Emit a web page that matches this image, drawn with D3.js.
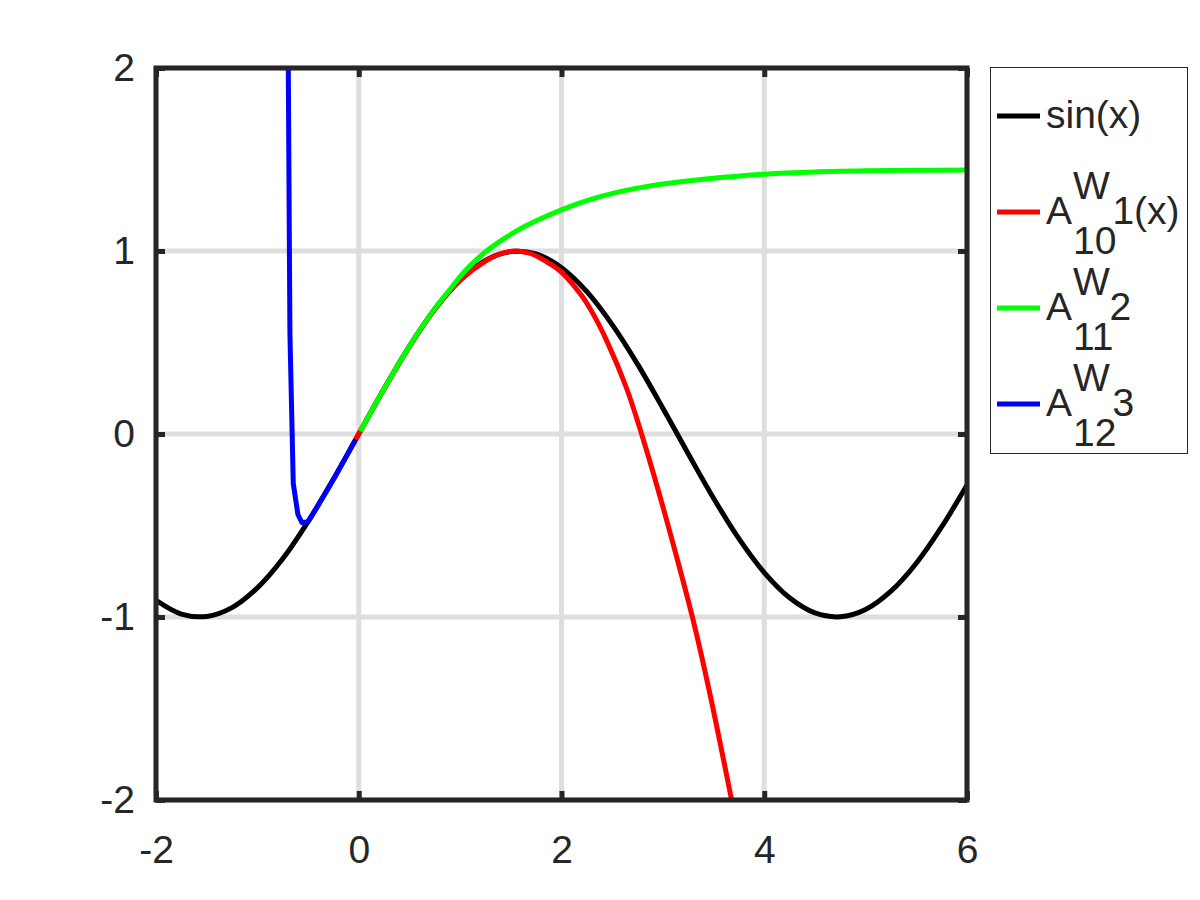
<!DOCTYPE html>
<html>
<head>
<meta charset="utf-8">
<script src="https://cdn.jsdelivr.net/npm/d3@7"></script>
<style>
  html, body { margin: 0; padding: 0; background: #fff; }
  svg { display: block; }
  text { font-family: "Liberation Sans", Arial, Helvetica, sans-serif; fill: #262626; }
</style>
</head>
<body>
<svg id="chart" width="1200" height="900"></svg>
<script>
// ---------- data ----------
const xTicks = [-2, 0, 2, 4, 6];
const yTicks = [-2, -1, 0, 1, 2];
const xTickLabels = ["-2", "0", "2", "4", "6"];
const yTickLabels = ["-2", "-1", "0", "1", "2"];

const sinX = [-2, -1.75, -1.5, -1.25, -1, -0.75, -0.5, -0.25, 0, 0.25, 0.5, 0.75, 1, 1.25, 1.5, 1.75, 2, 2.25, 2.5, 2.75, 3, 3.25, 3.5, 3.75, 4, 4.25, 4.5, 4.75, 5, 5.25, 5.5, 5.75, 6];
const sinY = [-0.909, -0.984, -0.997, -0.949, -0.841, -0.682, -0.479, -0.247, 0, 0.247, 0.479, 0.682, 0.841, 0.949, 0.997, 0.984, 0.909, 0.778, 0.598, 0.382, 0.141, -0.108, -0.351, -0.572, -0.757, -0.895, -0.978, -0.999, -0.959, -0.859, -0.706, -0.508, -0.279];

const redX = [-0.03, 0, 0.25, 0.5, 0.75, 1.0, 1.25, 1.4, 1.55, 1.7, 1.886, 2.0, 2.2, 2.313, 2.45, 2.642, 2.79, 2.971, 3.135, 3.3, 3.464, 3.678];
const redY = [-0.03, 0, 0.247, 0.479, 0.682, 0.84, 0.945, 0.985, 1.0, 0.985, 0.93, 0.885, 0.755, 0.655, 0.505, 0.25, 0.0, -0.34, -0.67, -1.02, -1.42, -2.0];

const greenX = [0.015, 0.25, 0.5, 0.75, 0.9, 1.0, 1.1, 1.25, 1.4, 1.557, 1.75, 2.0, 2.25, 2.544, 2.873, 3.2, 3.6, 4.0, 4.5, 5.0, 5.5, 6.0];
const greenY = [0.015, 0.247, 0.48, 0.685, 0.79, 0.86, 0.92, 0.995, 1.055, 1.11, 1.165, 1.225, 1.275, 1.32, 1.356, 1.38, 1.403, 1.42, 1.432, 1.438, 1.441, 1.443];

const blueX = [-0.695, -0.679, -0.646, -0.6, -0.56, -0.5, -0.4, -0.3, -0.2, -0.1, -0.035];
const blueY = [2.0, 0.55, -0.27, -0.44, -0.485, -0.479, -0.389, -0.296, -0.199, -0.1, -0.035];

const seriesNames = ["sin(x)", "A", "A", "A"];
const seriesSup = [null, "W", "W", "W"];
const seriesSub = [null, "10", "11", "12"];
const seriesTail = [null, "1(x)", "2", "3"];
const seriesColors = ["#000000", "#ff0000", "#00ff00", "#0000ff"];

// ---------- layout ----------
const svg = d3.select("#chart");
svg.append("rect").attr("width", 1200).attr("height", 900).attr("fill", "#fff");

const L = 156, R = 967, T = 68, B = 800;
const x = d3.scaleLinear().domain([-2, 6]).range([L, R]);
const y = d3.scaleLinear().domain([-2, 2]).range([B, T]);
const axisColor = "#262626";
const FS = 39;
const LW = 5;

// grid
const grid = svg.append("g");
grid.selectAll("line.gx").data(xTicks).enter().append("line")
  .attr("x1", d => x(d)).attr("x2", d => x(d)).attr("y1", T).attr("y2", B)
  .attr("stroke", "#dedede").attr("stroke-width", 5);
grid.selectAll("line.gy").data(yTicks).enter().append("line")
  .attr("y1", d => y(d)).attr("y2", d => y(d)).attr("x1", L).attr("x2", R)
  .attr("stroke", "#dedede").attr("stroke-width", 5);

// curves
const defs = svg.append("defs");
defs.append("clipPath").attr("id", "clip").append("rect")
  .attr("x", L).attr("y", T - 3).attr("width", R - L).attr("height", B - T + 6);

const plot = svg.append("g").attr("clip-path", "url(#clip)");
function draw(xs, ys, color, curve) {
  const pts = xs.map((v, i) => [v, ys[i]]);
  plot.append("path").datum(pts)
    .attr("d", d3.line().x(d => x(d[0])).y(d => y(d[1])).curve(curve))
    .attr("fill", "none").attr("stroke", color).attr("stroke-width", LW)
    .attr("stroke-linejoin", "round");
}
draw(sinX, sinY, seriesColors[0], d3.curveCatmullRom.alpha(0.5));
draw(redX, redY, seriesColors[1], d3.curveCatmullRom.alpha(0.5));
draw(greenX, greenY, seriesColors[2], d3.curveCatmullRom.alpha(0.5));
draw(blueX, blueY, seriesColors[3], d3.curveLinear);

// axes
function styleAxis(g) {
  g.select(".domain").remove();
  g.selectAll(".tick line").attr("stroke", axisColor).attr("stroke-width", 5);
  g.selectAll(".tick text").attr("font-size", FS).attr("fill", axisColor)
    .style("font-family", '"Liberation Sans", Arial, Helvetica, sans-serif');
}
svg.append("g").attr("transform", `translate(0,${B})`)
  .call(d3.axisBottom(x).tickValues(xTicks).tickFormat((d, i) => xTickLabels[i]).tickSize(-9).tickSizeOuter(0).tickPadding(35))
  .call(styleAxis);
svg.append("g").attr("transform", `translate(0,${T})`)
  .call(d3.axisTop(x).tickValues(xTicks).tickFormat("").tickSize(-9).tickSizeOuter(0))
  .call(styleAxis);
svg.append("g").attr("transform", `translate(${L},0)`)
  .call(d3.axisLeft(y).tickValues(yTicks).tickFormat((d, i) => yTickLabels[i]).tickSize(-9).tickSizeOuter(0).tickPadding(21))
  .call(styleAxis);
svg.append("g").attr("transform", `translate(${R},0)`)
  .call(d3.axisRight(y).tickValues(yTicks).tickFormat("").tickSize(-9).tickSizeOuter(0))
  .call(styleAxis);

// frame
svg.append("rect").attr("x", L).attr("y", T).attr("width", R - L).attr("height", B - T)
  .attr("fill", "none").attr("stroke", axisColor).attr("stroke-width", 5);

// legend
const lg = svg.append("g");
lg.append("rect").attr("x", 990.5).attr("y", 67.5).attr("width", 197).attr("height", 386)
  .attr("fill", "#fff").attr("stroke", axisColor).attr("stroke-width", 1);
const rowY = [116, 212, 308, 404];
const lx0 = 997, lx1 = 1040, tx = 1046;
seriesNames.forEach((name, i) => {
  lg.append("line").attr("x1", lx0).attr("x2", lx1).attr("y1", rowY[i]).attr("y2", rowY[i])
    .attr("stroke", seriesColors[i]).attr("stroke-width", LW);
  const base = rowY[i] + 12;
  const main = lg.append("text").attr("x", tx).attr("y", base).attr("font-size", FS).text(name);
  if (seriesSup[i]) {
    const wA = main.node().getComputedTextLength();
    const sx = tx + wA + 1;
    lg.append("text").attr("x", sx).attr("y", base - 25).attr("font-size", FS).text(seriesSup[i]);
    const sub = lg.append("text").attr("x", sx).attr("y", base + 30).attr("font-size", FS).text(seriesSub[i]);
    const wSub = sub.node().getComputedTextLength();
    lg.append("text").attr("x", sx + wSub - 4).attr("y", base).attr("font-size", FS).text(seriesTail[i]);
  }
});
</script>
</body>
</html>
